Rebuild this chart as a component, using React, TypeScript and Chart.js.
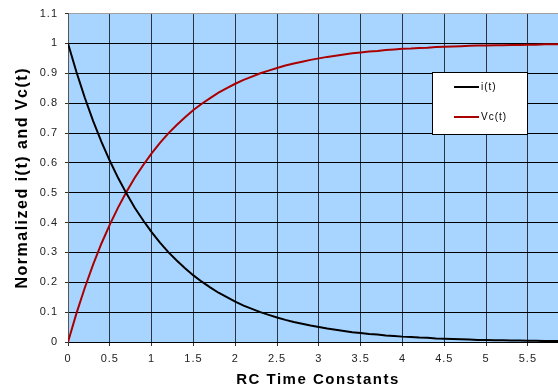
import React, { useEffect, useRef } from "react";
import { Chart, registerables } from "chart.js";

Chart.register(...registerables);

const timeConstants = [
  0, 0.1, 0.2, 0.3, 0.4, 0.5, 0.6, 0.7, 0.8, 0.9,
  1.0, 1.1, 1.2, 1.3, 1.4, 1.5, 1.6, 1.7, 1.8, 1.9,
  2.0, 2.1, 2.2, 2.3, 2.4, 2.5, 2.6, 2.7, 2.8, 2.9,
  3.0, 3.1, 3.2, 3.3, 3.4, 3.5, 3.6, 3.7, 3.8, 3.9,
  4.0, 4.1, 4.2, 4.3, 4.4, 4.5, 4.6, 4.7, 4.8, 4.9,
  5.0, 5.1, 5.2, 5.3, 5.4, 5.5, 5.6, 5.7, 5.8, 5.9,
];

const currentValues = [
  1.0, 0.905, 0.819, 0.741, 0.67, 0.607, 0.549, 0.497, 0.449, 0.407,
  0.368, 0.333, 0.301, 0.273, 0.247, 0.223, 0.202, 0.183, 0.165, 0.15,
  0.135, 0.122, 0.111, 0.1, 0.091, 0.082, 0.074, 0.067, 0.061, 0.055,
  0.05, 0.045, 0.041, 0.037, 0.033, 0.03, 0.027, 0.025, 0.022, 0.02,
  0.018, 0.017, 0.015, 0.014, 0.012, 0.011, 0.01, 0.009, 0.008, 0.007,
  0.007, 0.006, 0.006, 0.005, 0.005, 0.004, 0.004, 0.003, 0.003, 0.003,
];

const voltageValues = [
  0.0, 0.095, 0.181, 0.259, 0.33, 0.393, 0.451, 0.503, 0.551, 0.593,
  0.632, 0.667, 0.699, 0.727, 0.753, 0.777, 0.798, 0.817, 0.835, 0.85,
  0.865, 0.878, 0.889, 0.9, 0.909, 0.918, 0.926, 0.933, 0.939, 0.945,
  0.95, 0.955, 0.959, 0.963, 0.967, 0.97, 0.973, 0.975, 0.978, 0.98,
  0.982, 0.983, 0.985, 0.986, 0.988, 0.989, 0.99, 0.991, 0.992, 0.993,
  0.993, 0.994, 0.994, 0.995, 0.995, 0.996, 0.996, 0.997, 0.997, 0.997,
];

const seriesLabels = ["i(t)", "Vc(t)"];
const xTitle = "RC Time Constants";
const yTitle = "Normalized i(t) and Vc(t)";

const FONT = "'Liberation Sans', Arial, sans-serif";

const spacingPlugin = {
  id: "spacing",
  beforeLayout(chart: any) {
    (chart.ctx as any).letterSpacing = "1px";
  },
  beforeDraw(chart: any) {
    (chart.ctx as any).letterSpacing = "1px";
  },
};

const bgPlugin = {
  id: "plotBg",
  beforeDraw(chart: any) {
    const { ctx, chartArea } = chart;
    ctx.save();
    ctx.fillStyle = "#a8d5ff";
    ctx.fillRect(chartArea.left, chartArea.top, chartArea.right - chartArea.left, chartArea.bottom - chartArea.top);
    ctx.restore();
  },
};

const titlesPlugin = {
  id: "axisTitles",
  afterDraw(chart: any) {
    const { ctx, chartArea } = chart;
    ctx.save();
    ctx.fillStyle = "#000000";
    ctx.textAlign = "center";
    ctx.textBaseline = "middle";
    (ctx as any).letterSpacing = "1.5px";
    ctx.font = `bold 15px ${FONT}`;
    ctx.fillText(xTitle, (chartArea.left + chartArea.right) / 2 + 5, 380);
    ctx.translate(23, (chartArea.top + chartArea.bottom) / 2);
    ctx.rotate(-Math.PI / 2);
    ctx.font = `bold 16px ${FONT}`;
    ctx.fillText(yTitle, 0, 0);
    ctx.restore();
  },
};

const legendPlugin = {
  id: "boxLegend",
  afterDatasetsDraw(chart: any) {
    const { ctx } = chart;
    const x0 = 432.5, y0 = 72.5, w = 95, h = 62;
    ctx.save();
    ctx.fillStyle = "#ffffff";
    ctx.fillRect(x0, y0, w, h);
    ctx.strokeStyle = "#000000";
    ctx.lineWidth = 1;
    ctx.strokeRect(x0, y0, w, h);
    const rows = [87, 117];
    chart.data.datasets.forEach((ds: any, i: number) => {
      const y = rows[i];
      ctx.strokeStyle = ds.borderColor;
      ctx.lineWidth = 2;
      ctx.beginPath();
      ctx.moveTo(454, y);
      ctx.lineTo(479, y);
      ctx.stroke();
      ctx.fillStyle = "#000000";
      ctx.font = `10px ${FONT}`;
      (ctx as any).letterSpacing = "1px";
      ctx.textBaseline = "middle";
      ctx.textAlign = "left";
      ctx.fillText(ds.label, 481, y);
    });
    ctx.restore();
  },
};

export default function App() {
  const ref = useRef<HTMLCanvasElement | null>(null);

  useEffect(() => {
    if (!ref.current) return;
    const chart = new Chart(ref.current, {
      type: "line",
      data: {
        datasets: [
          {
            label: seriesLabels[0],
            data: timeConstants.map((t, i) => ({ x: t, y: currentValues[i] })),
            borderColor: "#000000",
            borderWidth: 2,
            pointRadius: 0,
            tension: 0,
          },
          {
            label: seriesLabels[1],
            data: timeConstants.map((t, i) => ({ x: t, y: voltageValues[i] })),
            borderColor: "#aa0000",
            borderWidth: 2,
            pointRadius: 0,
            tension: 0,
          },
        ],
      },
      options: {
        animation: false,
        responsive: false,
        maintainAspectRatio: false,
        layout: { padding: { top: 11, right: 0, bottom: 0, left: 0 } },
        plugins: {
          legend: { display: false },
          tooltip: { enabled: false },
        },
        scales: {
          x: {
            type: "linear",
            min: 0,
            max: 5.86,
            afterBuildTicks(scale: any) {
              scale.ticks = scale.ticks.filter(
                (t: any) => Math.abs(t.value * 2 - Math.round(t.value * 2)) < 1e-6
              );
            },
            afterFit(scale: any) {
              scale.height = 48;
            },
            ticks: {
              stepSize: 0.5,
              includeBounds: false,
              autoSkip: false,
              maxRotation: 0,
              padding: 6,
              color: "#222222",
              font: { family: FONT, size: 11 },
              callback: (v: any) => String(Number(Number(v).toFixed(1))),
            },
            grid: {
              color: "#2b3440",
              lineWidth: 1,
              tickLength: 4,
              tickColor: "#333333",
            },
            border: { color: "#000000", width: 1 },
            title: { display: false },
          },
          y: {
            min: 0,
            max: 1.1,
            afterFit(scale: any) {
              scale.width = 68;
            },
            ticks: {
              stepSize: 0.1,
              padding: 7,
              color: "#222222",
              font: { family: FONT, size: 11 },
              callback: (v: any) => String(Number(Number(v).toFixed(1))),
            },
            grid: {
              color: (c: any) => (c.tick && Math.abs(c.tick.value - 1.1) < 1e-6 ? "#a0a0a0" : "#000000"),
              lineWidth: 1,
              tickLength: 3,
              tickColor: "#333333",
            },
            border: { color: "#555555", width: 1 },
            title: { display: false },
          },
        },
      },
      plugins: [spacingPlugin, bgPlugin, legendPlugin, titlesPlugin],
    });
    return () => chart.destroy();
  }, []);

  return (
    <div style={{ position: "fixed", left: 0, top: 0, width: 558, height: 390, background: "#ffffff" }}>
      <canvas ref={ref} width={558} height={390} style={{ width: 558, height: 390, display: "block" }} />
    </div>
  );
}
